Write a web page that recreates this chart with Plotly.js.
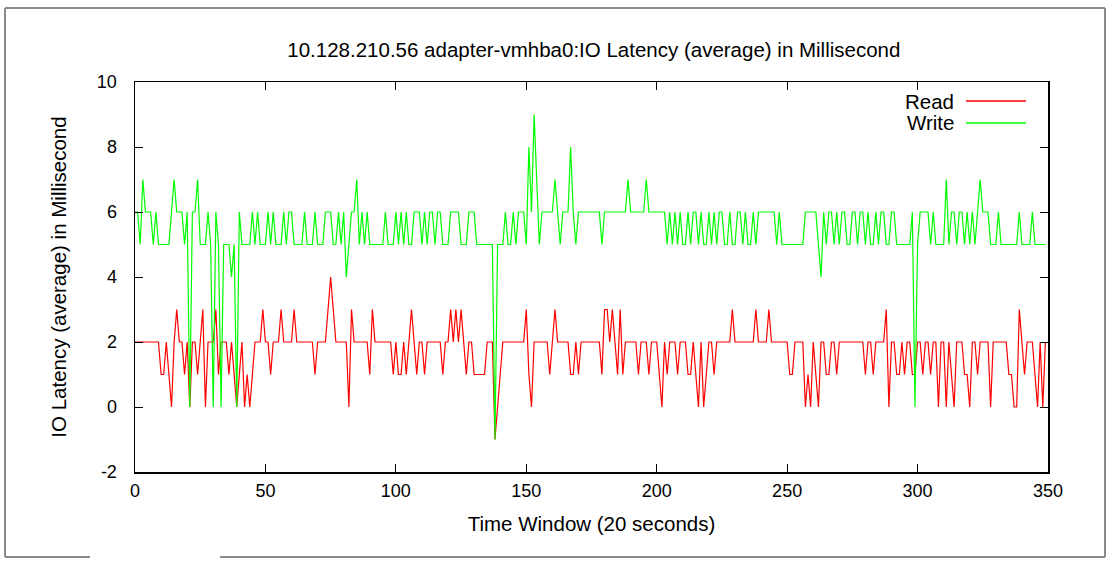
<!DOCTYPE html>
<html>
<head>
<meta charset="utf-8">
<script src="https://cdn.plot.ly/plotly-3.0.1.min.js"></script>
<style>html,body{margin:0;padding:0;background:#fff;}#chart{width:1110px;height:562px;}</style>
</head>
<body>
<div id="chart"></div>
<script>
// Read latency (ms), one value per 20-second time window, starting at window 0
const readValues = [
  2,2,2,2,2,2,2,2,2,2,
  1,1,2,1,0,2,3,2,2,1,
  2,0,2,2,1,2,3,0,2,2,
  2,3,1,2,2,2,1,2,1,0,
  1,2,0,1,0,1,2,2,2,3,
  2,2,1,2,2,2,3,2,2,2,
  2,3,2,2,2,2,2,2,2,1,
  2,2,2,2,3,4,3,2,2,2,
  2,2,0,3,2,2,2,2,2,2,
  1,3,2,2,2,2,2,2,2,1,
  2,1,1,2,1,2,3,2,1,2,
  2,1,2,2,2,2,2,2,1,2,
  2,3,2,3,2,3,2,1,2,2,
  1,1,1,1,1,2,2,2,-1,0,
  1,2,2,2,2,2,2,2,2,2,
  3,1,0,2,2,2,2,2,2,1,
  2,3,2,2,2,2,2,1,1,2,
  1,2,2,2,2,2,2,2,2,1,
  3,3,2,3,2,1,3,1,2,2,
  2,2,2,1,2,2,2,1,2,2,
  2,1,0,2,1,2,2,2,1,2,
  2,2,1,1,2,1,0,2,0,1,
  2,2,1,2,2,2,2,2,2,3,
  2,2,2,2,2,2,2,2,3,2,
  2,2,2,3,2,2,2,2,2,2,
  2,1,1,2,2,2,2,0,1,0,
  2,1,0,2,2,1,1,2,2,1,
  2,2,2,2,2,2,2,2,2,2,
  1,2,2,1,2,2,2,2,3,0,
  2,2,1,1,2,1,2,2,1,1,
  2,2,1,2,2,1,2,2,0,2,
  2,0,2,1,0,2,2,2,1,1,
  0,2,2,1,2,2,2,2,0,2,
  2,2,2,2,2,1,1,0,0,3,
  2,1,2,2,2,1,0,2,0,2
];
// Write latency (ms)
const writeValues = [
  6,6,5,7,6,6,6,5,6,5,
  5,5,5,5,6,7,6,6,6,5,
  6,0,6,6,7,5,5,5,6,5,
  0,6,5,0,5,5,5,4,5,0,
  6,5,5,5,5,6,5,6,5,5,
  5,6,5,6,5,5,5,6,5,6,
  6,5,5,5,5,6,5,5,5,6,
  5,5,5,6,6,6,5,5,6,5,
  6,4,5,6,6,7,5,6,5,6,
  5,5,5,5,5,5,6,5,5,5,
  6,5,6,5,6,5,5,6,6,6,
  5,6,5,6,6,5,6,6,5,5,
  5,6,6,6,6,5,5,5,6,6,
  6,5,5,5,5,5,5,5,-1,5,
  5,5,6,5,5,6,5,6,6,6,
  5,8,6,9,7,5,6,6,6,6,
  6,7,6,5,6,6,6,8,6,5,
  6,6,6,6,6,6,6,6,6,5,
  6,6,6,6,6,6,6,6,6,7,
  6,6,6,6,6,6,7,6,6,6,
  6,6,6,6,5,6,5,6,5,6,
  5,5,6,5,6,6,5,6,5,5,
  6,5,6,5,6,6,5,5,6,5,
  5,6,6,5,6,5,5,6,5,6,
  6,6,6,6,6,6,5,6,5,5,
  5,5,5,5,5,5,5,6,6,6,
  6,6,5,4,6,5,6,6,5,6,
  5,6,6,5,5,6,6,5,6,6,
  5,6,5,5,6,5,6,6,5,5,
  6,6,5,5,5,5,5,5,6,0,
  5,6,6,6,6,5,6,5,5,5,
  5,7,5,6,6,5,6,6,5,6,
  5,6,5,6,7,6,6,6,5,5,
  5,6,5,5,5,5,5,5,5,6,
  5,5,5,5,6,5,5,5,5,5
];
const timeWindows = readValues.map((_, i) => i);
const seriesNames = ["Read", "Write"];
const xTickValues = [0, 50, 100, 150, 200, 250, 300, 350];
const yTickValues = [-2, 0, 2, 4, 6, 8, 10];

const FONT = "Liberation Sans, Arial, sans-serif";
const RED = "#ff0000", GREEN = "#00ff00";

const traces = [
  {x: timeWindows, y: readValues, name: seriesNames[0], type: "scatter", mode: "lines",
   line: {color: RED, width: 1.2}, showlegend: false},
  {x: timeWindows, y: writeValues, name: seriesNames[1], type: "scatter", mode: "lines",
   line: {color: GREEN, width: 1.2}, showlegend: false}
];

// plot area in pixels: left 135, right 1048, top 82, bottom 472
const W = 913, H = 390;
const px = p => (p - 135) / W;
const py = q => (472 - q) / H;

const axisCommon = {
  showgrid: false, zeroline: false, showline: true, linecolor: "#000", linewidth: 1.5,
  mirror: "allticks", ticks: "inside", ticklen: 8, tickwidth: 1, tickcolor: "#000",
  tickfont: {family: FONT, size: 18, color: "#000"}
};

const layout = {
  width: 1110, height: 562,
  margin: {l: 135, r: 62, t: 82, b: 90},
  paper_bgcolor: "#fff", plot_bgcolor: "#fff",
  font: {family: FONT, color: "#000"},
  title: {text: "10.128.210.56 adapter-vmhba0:IO Latency (average) in Millisecond",
          font: {family: FONT, size: 20.5, color: "#000"}, x: 0.535, xanchor: "center", y: 0.911, yanchor: "middle"},
  xaxis: Object.assign({}, axisCommon, {
    range: [0, 350], tickvals: xTickValues, ticktext: xTickValues.map(String), ticklabelstandoff: 2,
    title: {text: "Time Window (20 seconds)", font: {family: FONT, size: 20.5, color: "#000"}, standoff: 16}
  }),
  yaxis: Object.assign({}, axisCommon, {
    range: [-2, 10], tickvals: yTickValues, ticktext: yTickValues.map(String), ticklabelstandoff: 13,
    title: {text: "IO Latency (average) in Millisecond", font: {family: FONT, size: 20.5, color: "#000"}, standoff: 24}
  }),
  showlegend: false,
  annotations: [
    {xref: "paper", yref: "paper", x: px(956), y: py(101), text: seriesNames[0], showarrow: false,
     xanchor: "right", yanchor: "middle", font: {family: FONT, size: 20.5, color: "#000"}},
    {xref: "paper", yref: "paper", x: px(956), y: py(123), text: seriesNames[1], showarrow: false,
     xanchor: "right", yanchor: "middle", font: {family: FONT, size: 20.5, color: "#000"}}
  ],
  shapes: [
    {type: "line", xref: "paper", yref: "paper", x0: px(966), x1: px(1026), y0: py(101), y1: py(101), line: {color: RED, width: 1.5}},
    {type: "line", xref: "paper", yref: "paper", x0: px(966), x1: px(1026), y0: py(123), y1: py(123), line: {color: GREEN, width: 1.5}},
    // outer screenshot frame
    {type: "line", xref: "paper", yref: "paper", x0: px(5), x1: px(5), y0: py(8), y1: py(557), line: {color: "#8a8a8a", width: 2}},
    {type: "line", xref: "paper", yref: "paper", x0: px(5), x1: px(1105), y0: py(8), y1: py(8), line: {color: "#8a8a8a", width: 2}},
    {type: "line", xref: "paper", yref: "paper", x0: px(1105), x1: px(1105), y0: py(8), y1: py(557), line: {color: "#8a8a8a", width: 2}},
    {type: "line", xref: "paper", yref: "paper", x0: px(5), x1: px(90), y0: py(557), y1: py(557), line: {color: "#8a8a8a", width: 2}},
    {type: "line", xref: "paper", yref: "paper", x0: px(220), x1: px(1105), y0: py(557), y1: py(557), line: {color: "#8a8a8a", width: 2}}
  ]
};

Plotly.newPlot("chart", traces, layout, {displayModeBar: false, staticPlot: true});
</script>
</body>
</html>
